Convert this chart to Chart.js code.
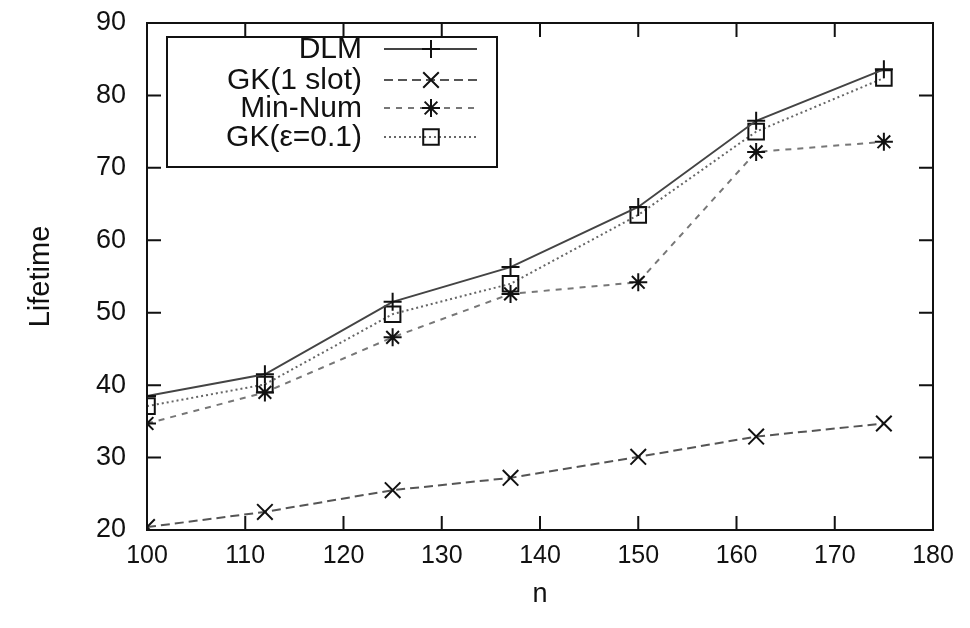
<!DOCTYPE html>
<html>
<head>
<meta charset="utf-8">
<script src="https://cdn.jsdelivr.net/npm/chart.js@4.4.1/dist/chart.umd.min.js"></script>
<style>
  html, body { margin: 0; padding: 0; background: #fff; }
  #wrap { width: 970px; height: 628px; position: relative; }
</style>
</head>
<body>
<div id="wrap"><canvas id="chart"></canvas></div>
<script>
// data
const nValues = [100, 112, 125, 137, 150, 162, 175];
const dlm     = [38.5, 41.5, 51.5, 56.3, 64.6, 76.5, 83.6];
const gkSlot  = [20.4, 22.5, 25.5, 27.2, 30.1, 32.9, 34.7];
const minNum  = [34.7, 39.0, 46.6, 52.6, 54.2, 72.2, 73.6];
const gkEps   = [37.1, 40.1, 49.8, 54.0, 63.5, 75.0, 82.4];
const seriesNames = ['DLM', 'GK(1 slot)', 'Min-Num', 'GK(\u03b5=0.1)'];
const xTicks = [100, 110, 120, 130, 140, 150, 160, 170, 180];
const yTicks = [20, 30, 40, 50, 60, 70, 80, 90];

const FONT = "'Liberation Sans', Arial, Helvetica, sans-serif";

function pts(arr) {
  return arr.map((v, i) => ({ x: nValues[i], y: v }));
}

const styles = [
  { color: '#444', dash: [],     marker: 'cross',    r: 9 },
  { color: '#555', dash: [9, 5], marker: 'crossRot', r: 11 },
  { color: '#777', dash: [6, 6], marker: 'star',     r: 9 },
  { color: '#666', dash: [2, 3], marker: 'rect',     r: 11 }
];

const datasets = [dlm, gkSlot, minNum, gkEps].map((arr, i) => ({
  label: seriesNames[i],
  data: pts(arr),
  borderColor: styles[i].color,
  borderWidth: 2,
  borderDash: styles[i].dash,
  pointStyle: styles[i].marker,
  pointRadius: styles[i].r,
  pointHoverRadius: styles[i].r,
  pointBorderColor: '#111',
  pointBackgroundColor: 'rgba(0,0,0,0)',
  pointBorderWidth: 2,
  tension: 0,
  fill: false
}));

// draws a marker the same way for the legend
function marker(ctx, style, x, y, r) {
  ctx.beginPath();
  if (style === 'cross' || style === 'star') {
    ctx.moveTo(x - r, y); ctx.lineTo(x + r, y);
    ctx.moveTo(x, y - r); ctx.lineTo(x, y + r);
  }
  if (style === 'crossRot' || style === 'star') {
    const d = r * Math.SQRT1_2;
    ctx.moveTo(x - d, y - d); ctx.lineTo(x + d, y + d);
    ctx.moveTo(x - d, y + d); ctx.lineTo(x + d, y - d);
  }
  if (style === 'rect') {
    const s = r * Math.SQRT1_2;
    ctx.rect(x - s, y - s, 2 * s, 2 * s);
  }
  ctx.stroke();
}

const framePlugin = {
  id: 'frame',
  afterDatasetsDraw(chart) {
    const { ctx, chartArea: a, scales } = chart;
    ctx.save();
    ctx.strokeStyle = '#111';
    ctx.lineWidth = 2;
    ctx.setLineDash([]);
    ctx.strokeRect(a.left, a.top, a.right - a.left, a.bottom - a.top);
    const len = 14;
    ctx.beginPath();
    xTicks.forEach(v => {
      const px = scales.x.getPixelForValue(v);
      ctx.moveTo(px, a.bottom); ctx.lineTo(px, a.bottom - len);
      ctx.moveTo(px, a.top); ctx.lineTo(px, a.top + len);
    });
    yTicks.forEach(v => {
      const py = scales.y.getPixelForValue(v);
      ctx.moveTo(a.left, py); ctx.lineTo(a.left + len, py);
      ctx.moveTo(a.right, py); ctx.lineTo(a.right - len, py);
    });
    ctx.stroke();

    // legend box
    const bx = 167, by = 37, bw = 330, bh = 130;
    ctx.fillStyle = '#fff';
    ctx.fillRect(bx, by, bw, bh);
    ctx.strokeRect(bx, by, bw, bh);
    const rows = [49, 80, 108, 137];
    ctx.font = '30px ' + FONT;
    ctx.textAlign = 'right';
    ctx.textBaseline = 'middle';
    chart.data.datasets.forEach((ds, i) => {
      const y = rows[i];
      ctx.fillStyle = '#111';
      ctx.fillText(ds.label, 362, y + 1);
      ctx.strokeStyle = ds.borderColor;
      ctx.lineWidth = 2;
      ctx.setLineDash(ds.borderDash);
      ctx.beginPath();
      ctx.moveTo(384, y); ctx.lineTo(477, y);
      ctx.stroke();
      ctx.setLineDash([]);
      ctx.strokeStyle = '#111';
      marker(ctx, ds.pointStyle, 431, y, ds.pointRadius);
    });
    ctx.restore();
  }
};

new Chart(document.getElementById('chart'), {
  type: 'line',
  data: { datasets },
  options: {
    responsive: true,
    maintainAspectRatio: false,
    animation: false,
    events: [],
    layout: { padding: { left: 0, right: 37, top: 23, bottom: 0 } },
    plugins: { legend: { display: false }, tooltip: { enabled: false } },
    scales: {
      x: {
        type: 'linear',
        min: 100, max: 180,
        afterFit(s) { s.height = 98; s.paddingLeft = 0; s.paddingRight = 0; },
        afterBuildTicks(s) { s.ticks = xTicks.map(v => ({ value: v })); },
        grid: { display: false, drawTicks: false },
        border: { display: false },
        ticks: { padding: 11, color: '#111', font: { family: FONT, size: 25 } },
        title: { display: true, text: 'n', color: '#111', font: { family: FONT, size: 27 }, padding: { top: 0, bottom: 17 } }
      },
      y: {
        min: 20, max: 90,
        afterFit(s) { s.width = 147; s.paddingTop = 0; s.paddingBottom = 0; },
        afterBuildTicks(s) { s.ticks = yTicks.map(v => ({ value: v })); },
        grid: { display: false, drawTicks: false },
        border: { display: false },
        ticks: { padding: 21, color: '#111', font: { family: FONT, size: 27 } },
        title: { display: true, text: 'Lifetime', color: '#111', font: { family: FONT, size: 29 }, padding: { top: 24, bottom: 0 } }
      }
    }
  },
  plugins: [framePlugin]
});
</script>
</body>
</html>
